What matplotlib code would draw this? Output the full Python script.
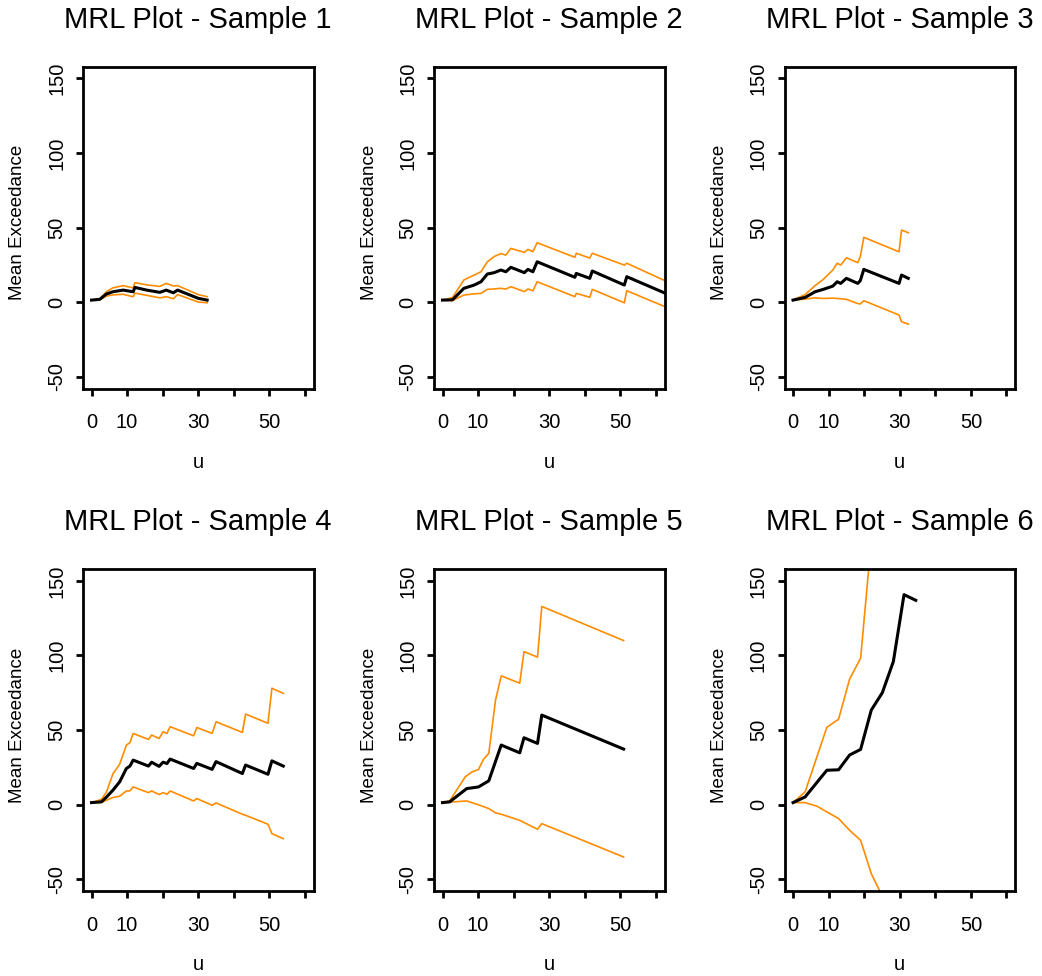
import numpy as np
import matplotlib
matplotlib.use('Agg')
import matplotlib.pyplot as plt

plt.rcParams['font.family'] = ['Liberation Sans', 'DejaVu Sans']

# Sample 1
u1 = [0, 2.3, 4.2, 6, 8.9, 11.7, 12.2, 15.5, 19.2, 21, 23, 24.2, 30, 32.5]
me1 = [1.3, 1.8, 5.4, 6.9, 8, 6.9, 9.8, 8, 6.5, 8, 6.2, 8, 2.5, 1.3]
up1 = [1.3, 2.0, 7.0, 9.5, 11.0, 9.5, 13.0, 11.5, 10.5, 12.5, 10.8, 11.0, 5.0, 3.6]
lo1 = [1.3, 1.6, 4.0, 4.8, 5.2, 3.5, 6.0, 4.5, 2.8, 3.6, 2.2, 5.0, 0.0, -0.5]

# Sample 2
u2 = [0, 2.8, 6, 8.9, 10.8, 12.6, 14.5, 16.4, 17.8, 19.2, 23, 24, 25.4, 26.6,
      37.2, 37.6, 41.4, 42.1, 51.1, 51.8, 63]
me2 = [1.3, 1.5, 9.2, 11.4, 13.6, 18.8, 19.7, 21.5, 20.3, 23.3, 19.7, 21.9, 20.3, 27.0,
       16.6, 19.2, 15.9, 20.8, 11.4, 17.0, 5.5]
up2 = [1.3, 3.0, 14.8, 18.1, 20.3, 27.0, 30.5, 32.5, 31.5, 36.0, 33.3, 35.3, 33.8, 39.8,
       30.0, 32.7, 29.5, 32.7, 24.8, 26.0, 13.8]
lo2 = [1.3, 1.0, 4.7, 5.5, 5.8, 8.5, 8.8, 9.2, 8.7, 10.3, 7.0, 8.8, 7.5, 13.6,
       3.6, 5.8, 3.2, 8.5, -0.5, 7.6, -3.6]

# Sample 3
u3 = [0, 3.4, 6.2, 8.5, 11.2, 12.4, 13.4, 15, 18.2, 18.9, 19.9, 29.8, 30.5, 32.4]
me3 = [1.3, 3.1, 6.9, 8.5, 10.7, 13.6, 12.5, 15.9, 12.5, 14.3, 21.9, 12.5, 18.1, 15.9]
up3 = [1.3, 5.0, 11.0, 15.2, 21.5, 26.0, 24.8, 29.7, 26.4, 30.4, 43.4, 33.7, 48.3, 46.5]
lo3 = [1.3, 2.0, 2.8, 2.4, 2.6, 2.4, 2.2, 1.8, -1.0, -1.3, 0.9, -8.7, -13.2, -14.8]

# Sample 4
u4 = [0, 2.8, 4.2, 6, 7.9, 9.8, 10.8, 11.7, 16, 16.9, 19, 20.1, 21.2, 22.1,
      28.7, 29.6, 33.9, 35, 42.4, 43.3, 49.6, 50.7, 53.9]
me4 = [1.3, 1.8, 5, 9.6, 15.2, 24.2, 25.8, 29.8, 25.8, 28.4, 25.6, 28.4, 27.5, 30.5,
       24.2, 27.6, 23.6, 28.8, 20.8, 26.5, 20.3, 29.3, 25.8]
up4 = [1.3, 3.5, 8.5, 20.5, 27.0, 39.9, 41.5, 47.7, 43.7, 46.6, 44.3, 48.8, 47.7, 52.2,
       46.1, 51.7, 47.7, 55.5, 48.4, 60.7, 54.5, 78.0, 74.6]
lo4 = [1.3, 1.5, 2.9, 4.7, 5.6, 9.1, 9.1, 11.8, 8.0, 9.1, 6.7, 8.0, 6.9, 9.1,
       2.4, 4.0, -0.5, 1.1, -6.5, -7.2, -13.2, -19.5, -22.9]

# Sample 5
u5 = [0, 2, 6.8, 10.1, 13, 16.5, 21.7, 22.9, 26.7, 27.9, 50.9]
me5 = [1.3, 1.8, 10.7, 11.8, 15.9, 39.9, 34.7, 44.8, 41.0, 60.0, 37.2]
uu5 = [0, 2, 6.4, 8.3, 10.1, 11.5, 13, 14.9, 16.5, 21.7, 22.9, 26.7, 27.9, 50.9]
up5 = [1.3, 2.4, 18.6, 21.9, 23.5, 30.3, 34.3, 70.1, 86.3, 81.4, 102.6, 98.9, 132.9, 110.0]
ul5 = [0, 6.8, 10.5, 13, 14.9, 16.5, 21.7, 26.7, 27.9, 50.9]
lo5 = [1.3, 2.4, -0.5, -2.7, -5.6, -6.5, -10.6, -16.6, -12.8, -35.2]

# Sample 6
u6 = [0, 3.4, 9.5, 12.8, 15.9, 19, 22, 25.1, 28.2, 31.2, 34.5]
me6 = [1.3, 5.1, 23.0, 23.3, 33.2, 37.0, 63.4, 75.0, 95.9, 140.8, 137.0]
uu6 = [0, 3.4, 9.5, 12.8, 15.9, 19, 22]
up6 = [1.3, 8.5, 51.8, 57.2, 84.1, 98.2, 177]
ul6 = [0, 3.4, 6.7, 12.8, 15.9, 19, 22, 26]
lo6 = [1.3, 1.3, -1.1, -9.4, -17.3, -24.0, -46.4, -66]

samples = [
    (u1, me1, u1, up1, u1, lo1),
    (u2, me2, u2, up2, u2, lo2),
    (u3, me3, u3, up3, u3, lo3),
    (u4, me4, u4, up4, u4, lo4),
    (u5, me5, uu5, up5, ul5, lo5),
    (u6, me6, uu6, up6, ul6, lo6),
]

xticks = [0, 10, 20, 30, 40, 50, 60]
xticklabels = ['0', '10', '', '30', '', '50', '']
yticks = [-50, 0, 50, 100, 150]

W, H = 1042, 976
fig = plt.figure(figsize=(W / 100, H / 100), dpi=100)

lefts = [83, 434, 784.5]
tops = [66.5, 569]
bw, bh = 230.5, 322

orange = '#FF8C00'

for i, (u, me, ux, up, lx, lo) in enumerate(samples):
    r, c = divmod(i, 3)
    ax = fig.add_axes([lefts[c] / W, 1 - (tops[r] + bh) / H, bw / W, bh / H])
    ax.plot(ux, up, color=orange, linewidth=1.2)
    ax.plot(lx, lo, color=orange, linewidth=1.2)
    ax.plot(u, me, color='black', linewidth=2.2)
    ax.set_xlim(-2.4, 62.4)
    ax.set_ylim(-58, 158)
    ax.set_xticks(xticks)
    ax.set_xticklabels(xticklabels)
    ax.set_yticks(yticks)
    ax.set_yticklabels([str(v) for v in yticks], rotation=90, va='center')
    for s in ax.spines.values():
        s.set_linewidth(2)
    ax.tick_params(axis='both', direction='out', length=5, width=2, labelsize=14.5)
    ax.tick_params(axis='x', pad=13)
    ax.tick_params(axis='y', pad=7)
    ax.set_title(f'MRL Plot - Sample {i + 1}', fontsize=21, pad=28)
    # axis labels placed in pixel offsets from the box
    ax.text(0.5, 1 - (462 - 66.5) / bh, 'u', transform=ax.transAxes,
            ha='center', va='center', fontsize=14.5)
    ax.text(-65 / bw, 0.515, 'Mean Exceedance', transform=ax.transAxes,
            ha='center', va='center', rotation=90, fontsize=13.5)

fig.savefig('out.png', dpi=100)
